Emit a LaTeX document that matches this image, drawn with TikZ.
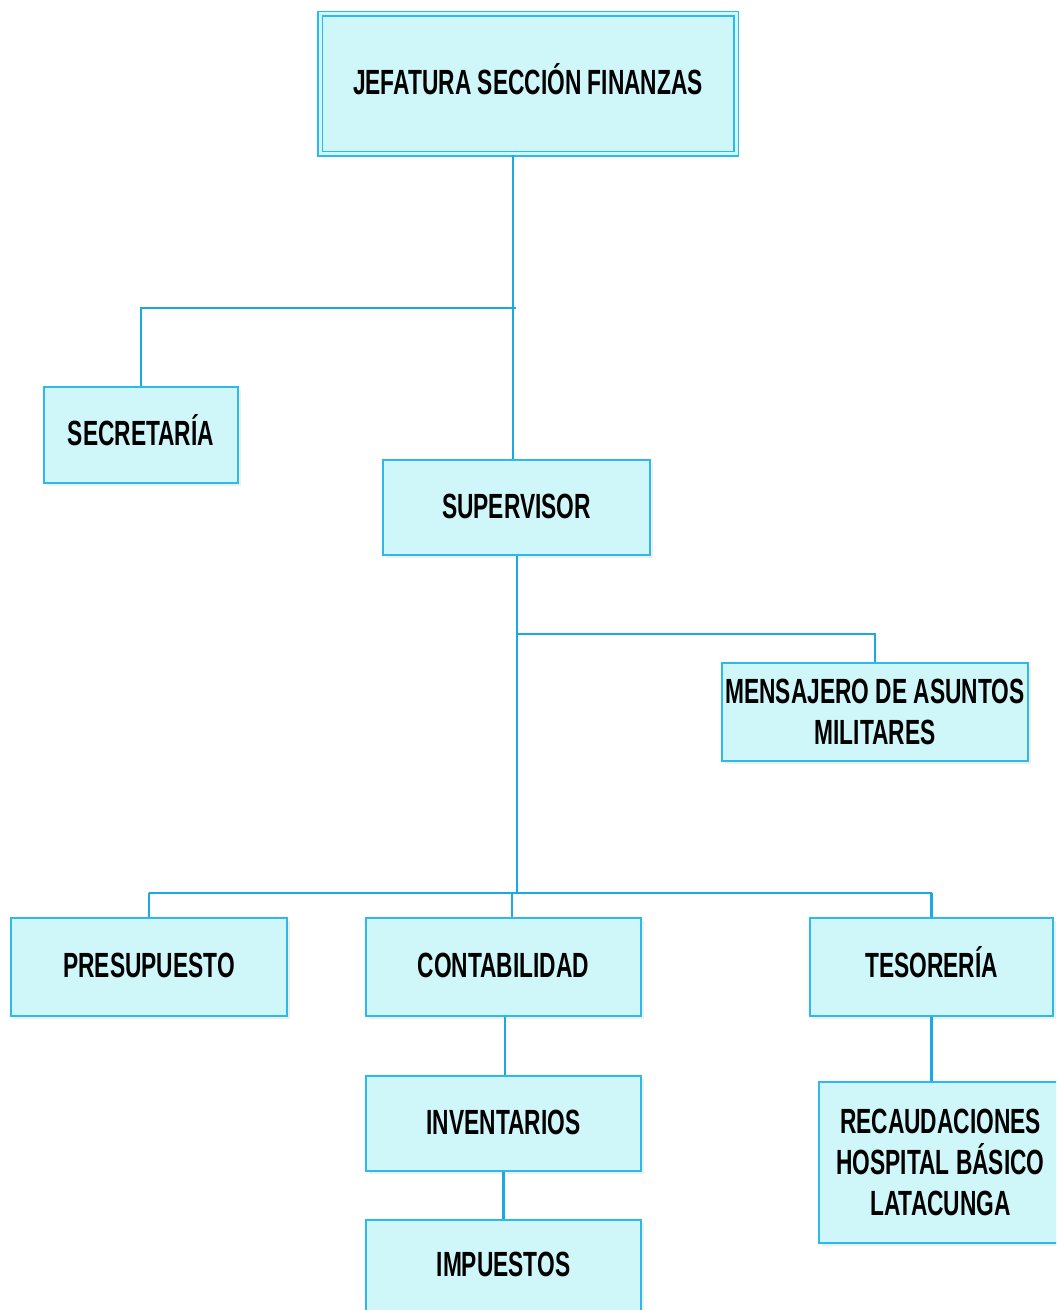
\documentclass[tikz,border=0pt]{standalone}
\usepackage{fontspec}
\setmainfont{Liberation Sans}[FakeStretch=0.65]
\usetikzlibrary{shadows}
\definecolor{boxfill}{RGB}{207,247,250}
\definecolor{boxline}{RGB}{45,185,235}
\definecolor{wire}{RGB}{25,170,228}
\definecolor{shade}{RGB}{238,240,228}

\begin{document}
\begin{tikzpicture}[x=0.5pt,y=-0.5pt,
  unit/.style={draw=boxline, line width=0.75pt, fill=boxfill, inner sep=0pt,
    align=center, font=\fontsize{17.5}{20.4}\selectfont\bfseries,
    drop shadow={shadow xshift=1.5pt, shadow yshift=-1.5pt, fill=shade, opacity=1}},
  oneline/.style={text height=12.5pt, text depth=2pt},
  link/.style={draw=wire, line width=1.1pt}]

\useasboundingbox (0,0) rectangle (1056,1310);
\clip (0,0) rectangle (1056,1310);

% boxes of the chart
\node[unit, oneline, double=boxfill, double distance=1.5pt, line width=0.6pt,
      minimum width=208pt, minimum height=70pt] (jef) at (528,84) {JEFATURA SECCIÓN FINANZAS};
\node[unit, oneline, minimum width=97pt, minimum height=48pt] (sec) at (141,435) {SECRETARÍA};
\node[unit, oneline, minimum width=133.5pt, minimum height=47.5pt] (sup) at (516.5,507.5) {SUPERVISOR};
\node[unit, minimum width=153pt, minimum height=49pt] (men) at (875,712) {MENSAJERO DE ASUNTOS\\MILITARES};
\node[unit, oneline, minimum width=138pt, minimum height=49pt] (pre) at (149,967) {PRESUPUESTO};
\node[unit, oneline, minimum width=137.5pt, minimum height=49pt] (con) at (503.5,967) {CONTABILIDAD};
\node[unit, oneline, minimum width=121.5pt, minimum height=49pt] (tes) at (931.5,967) {TESORERÍA};
\node[unit, oneline, minimum width=137.5pt, minimum height=47.5pt] (inv) at (503.5,1123.5) {INVENTARIOS};
\node[unit, oneline, minimum width=137.5pt, minimum height=46pt] (imp) at (503.5,1266) {IMPUESTOS};
\node[unit, minimum width=121.5pt, minimum height=80.5pt] (rec) at (940.5,1162.5) {RECAUDACIONES\\HOSPITAL BÁSICO\\LATACUNGA};

% junction points of the connectors
\coordinate (jsplit) at (513,308);
\coordinate (ssplit) at (517,634);
\coordinate (bsplit) at (517,893);
\coordinate (cdrop) at (512,893);

% connectors
\draw[link] (jef.south -| jsplit) -- (sup.north -| jsplit);
\draw[link] ([xshift=1.5pt]jsplit) -- (jsplit -| sec.north) -- (sec.north);
\draw[link] (sup.south -| ssplit) -- (bsplit);
\draw[link] (ssplit) -- (ssplit -| men.north) -- (men.north);
\draw[link] (bsplit -| pre.north) -- (bsplit -| tes.north);
\draw[link] (bsplit -| pre.north) -- (pre.north);
\draw[link] (bsplit -| tes.north) -- (tes.north);
\draw[link] (cdrop) -- (cdrop |- con.north);
\draw[link] ([xshift=0.75pt]con.south) -- ([xshift=0.75pt]inv.north);
\draw[link] (inv.south) -- (imp.north);
\draw[link] (tes.south) -- (tes.south |- rec.north);
\end{tikzpicture}
\end{document}
